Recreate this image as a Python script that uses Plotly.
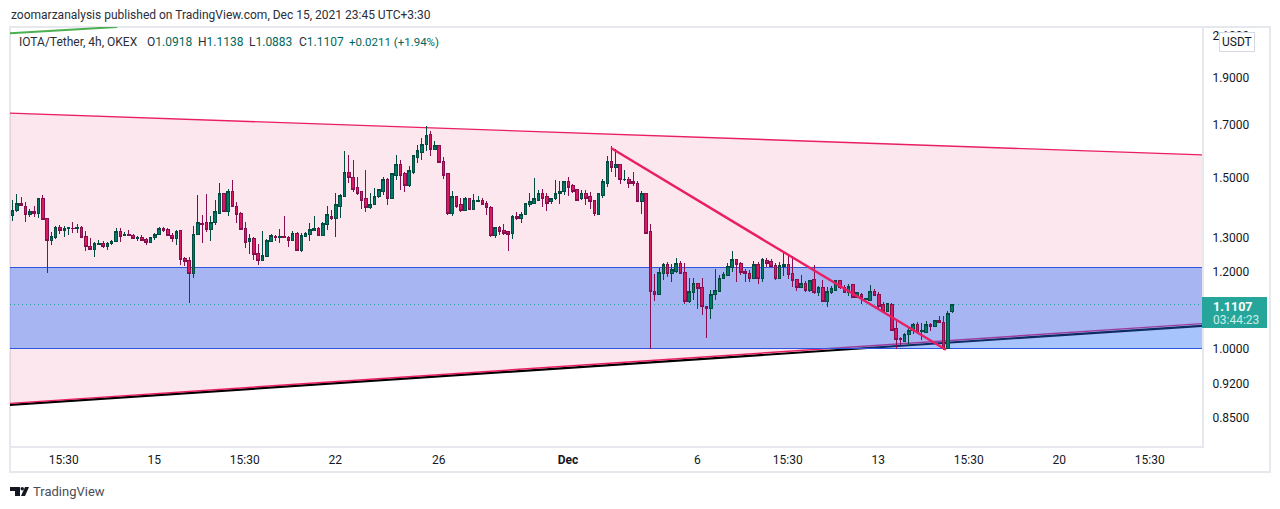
import math
import pandas as pd
import plotly.graph_objects as go

# IOTA/Tether 4h candles
opens = [
1.371,1.387,1.413,1.403,1.374,1.386,1.378,1.427,1.361,1.293,
1.304,1.335,1.324,1.332,1.332,1.330,1.335,1.307,1.276,1.265,
1.281,1.283,1.274,1.283,1.290,1.320,1.310,1.312,1.310,1.298,
1.304,1.295,1.287,1.301,1.311,1.332,1.326,1.310,1.298,1.323,
1.238,1.232,1.196,1.311,1.345,1.348,1.326,1.348,1.380,1.444,
1.384,1.454,1.403,1.380,1.329,1.289,1.298,1.253,1.232,1.245,
1.289,1.307,1.301,1.307,1.304,1.292,1.316,1.264,1.307,1.313,
1.323,1.329,1.310,1.342,1.370,1.364,1.403,1.437,1.518,1.503,
1.465,1.451,1.427,1.400,1.407,1.434,1.454,1.493,1.427,1.510,
1.547,1.514,1.472,1.518,1.576,1.595,1.622,1.661,1.603,1.618,
1.558,1.514,1.380,1.434,1.407,1.390,1.427,1.393,1.420,1.423,
1.413,1.400,1.310,1.335,1.323,1.320,1.316,1.370,1.361,1.374,
1.410,1.413,1.423,1.444,1.434,1.417,1.427,1.444,1.451,1.486,
1.472,1.458,1.427,1.444,1.434,1.423,1.377,1.440,1.482,1.561,
1.536,1.547,1.493,1.496,1.486,1.482,1.417,1.444,1.320,1.147,
1.139,1.197,1.223,1.197,1.203,1.226,1.200,1.118,1.142,1.167,
1.156,1.107,1.100,1.137,1.147,1.181,1.189,1.214,1.235,1.226,
1.203,1.197,1.183,1.223,1.183,1.232,1.229,1.220,1.181,1.217,
1.223,1.195,1.178,1.156,1.167,1.150,1.178,1.142,1.156,1.120,
1.142,1.150,1.175,1.158,1.142,1.164,1.131,1.139,1.124,1.123,
1.147,1.137,1.110,1.094,1.110,1.049,1.024,1.019,1.034,1.044,
1.061,1.042,1.041,1.061,1.056,1.071,1.066,1.002,1.0918]
highs = [
1.423,1.444,1.433,1.416,1.393,1.402,1.430,1.440,1.363,1.321,
1.338,1.342,1.337,1.335,1.351,1.345,1.337,1.323,1.300,1.289,
1.294,1.292,1.289,1.294,1.332,1.332,1.320,1.325,1.312,1.307,
1.310,1.301,1.304,1.317,1.334,1.335,1.332,1.317,1.325,1.323,
1.244,1.244,1.338,1.440,1.374,1.444,1.369,1.423,1.482,1.447,
1.461,1.493,1.416,1.383,1.351,1.313,1.304,1.283,1.323,1.298,
1.313,1.310,1.329,1.370,1.307,1.323,1.320,1.316,1.320,1.348,
1.370,1.335,1.351,1.402,1.390,1.447,1.444,1.599,1.584,1.565,
1.503,1.454,1.528,1.447,1.465,1.461,1.503,1.500,1.518,1.584,
1.565,1.521,1.543,1.580,1.622,1.649,1.696,1.676,1.637,1.622,
1.576,1.514,1.454,1.437,1.430,1.434,1.430,1.444,1.437,1.430,
1.420,1.403,1.335,1.338,1.345,1.323,1.374,1.384,1.384,1.413,
1.447,1.500,1.458,1.461,1.447,1.430,1.493,1.489,1.489,1.503,
1.479,1.458,1.458,1.458,1.451,1.423,1.447,1.496,1.580,1.618,
1.606,1.550,1.528,1.503,1.521,1.489,1.454,1.444,1.345,1.194,
1.212,1.226,1.229,1.223,1.241,1.232,1.226,1.183,1.183,1.167,
1.183,1.107,1.150,1.209,1.192,1.200,1.226,1.261,1.238,1.229,
1.209,1.206,1.232,1.229,1.241,1.241,1.238,1.226,1.229,1.261,
1.247,1.247,1.181,1.192,1.175,1.178,1.220,1.161,1.178,1.158,
1.161,1.175,1.178,1.164,1.167,1.167,1.145,1.142,1.126,1.164,
1.153,1.145,1.118,1.115,1.115,1.069,1.029,1.039,1.054,1.064,
1.066,1.064,1.069,1.064,1.071,1.081,1.081,1.094,1.1138]
lows = [
1.355,1.385,1.404,1.352,1.366,1.368,1.364,1.357,1.198,1.281,
1.297,1.313,1.305,1.310,1.316,1.317,1.301,1.262,1.264,1.244,
1.281,1.271,1.264,1.281,1.289,1.289,1.307,1.307,1.298,1.292,
1.292,1.281,1.286,1.295,1.310,1.321,1.307,1.289,1.280,1.220,
1.217,1.115,1.184,1.310,1.286,1.321,1.292,1.342,1.377,1.383,
1.370,1.400,1.348,1.326,1.270,1.253,1.235,1.220,1.232,1.244,
1.289,1.292,1.286,1.301,1.273,1.292,1.264,1.258,1.304,1.292,
1.323,1.307,1.307,1.326,1.358,1.304,1.364,1.437,1.482,1.451,
1.440,1.393,1.384,1.393,1.407,1.430,1.440,1.407,1.427,1.493,
1.458,1.451,1.468,1.514,1.554,1.565,1.599,1.580,1.603,1.554,
1.496,1.374,1.370,1.397,1.384,1.387,1.390,1.393,1.417,1.407,
1.374,1.304,1.301,1.310,1.310,1.261,1.298,1.358,1.348,1.374,
1.400,1.413,1.423,1.400,1.387,1.410,1.423,1.410,1.440,1.437,
1.447,1.420,1.423,1.407,1.393,1.370,1.377,1.430,1.468,1.521,
1.503,1.479,1.489,1.465,1.472,1.417,1.377,1.316,0.999,1.120,
1.139,1.178,1.186,1.172,1.197,1.197,1.113,1.115,1.123,1.100,
1.084,1.027,1.074,1.123,1.145,1.181,1.189,1.200,1.172,1.192,
1.172,1.172,1.183,1.167,1.172,1.214,1.214,1.178,1.181,1.189,
1.181,1.158,1.147,1.156,1.145,1.145,1.139,1.134,1.120,1.105,
1.139,1.150,1.153,1.142,1.134,1.131,1.129,1.113,1.124,1.123,
1.134,1.102,1.089,1.092,1.044,1.000,1.010,1.017,1.007,1.036,
1.036,1.022,1.041,1.044,1.056,1.064,0.998,1.002,1.0883]
closes = [
1.390,1.413,1.404,1.375,1.386,1.378,1.427,1.359,1.293,1.307,
1.335,1.324,1.332,1.333,1.330,1.335,1.304,1.274,1.265,1.283,
1.283,1.274,1.285,1.291,1.320,1.307,1.313,1.308,1.299,1.304,
1.293,1.286,1.301,1.313,1.332,1.323,1.308,1.298,1.322,1.236,
1.229,1.195,1.313,1.348,1.343,1.326,1.351,1.384,1.444,1.384,
1.454,1.401,1.375,1.327,1.286,1.298,1.250,1.232,1.247,1.292,
1.310,1.301,1.307,1.301,1.292,1.316,1.264,1.310,1.316,1.326,
1.329,1.310,1.345,1.374,1.364,1.407,1.440,1.521,1.500,1.461,
1.447,1.423,1.400,1.410,1.437,1.458,1.493,1.427,1.514,1.547,
1.510,1.472,1.525,1.580,1.599,1.625,1.657,1.603,1.618,1.554,
1.510,1.380,1.434,1.403,1.390,1.427,1.393,1.423,1.423,1.410,
1.397,1.310,1.335,1.320,1.315,1.313,1.370,1.361,1.377,1.413,
1.417,1.427,1.444,1.430,1.413,1.430,1.447,1.454,1.486,1.468,
1.454,1.423,1.444,1.430,1.420,1.380,1.444,1.486,1.558,1.536,
1.547,1.493,1.496,1.482,1.479,1.417,1.444,1.316,1.147,1.137,
1.200,1.223,1.197,1.206,1.226,1.197,1.118,1.145,1.167,1.153,
1.105,1.100,1.139,1.150,1.183,1.192,1.217,1.235,1.223,1.200,
1.195,1.183,1.223,1.181,1.235,1.226,1.217,1.181,1.220,1.223,
1.192,1.175,1.156,1.167,1.150,1.175,1.142,1.158,1.120,1.145,
1.153,1.175,1.156,1.142,1.161,1.131,1.142,1.129,1.126,1.147,
1.134,1.107,1.092,1.113,1.046,1.022,1.022,1.036,1.046,1.061,
1.041,1.044,1.061,1.056,1.069,1.064,1.002,1.087,1.1107]
first_candle = "2021-11-09 12:30"

# Price-scale and time-scale labels
y_ticks = [0.85, 0.92, 1.0, 1.2, 1.3, 1.5, 1.7, 1.9, 2.1]
x_tick_dates = ["2021-11-11 12:00", "2021-11-15", "2021-11-18 12:00", "2021-11-22",
                "2021-11-26", "2021-12-01", "2021-12-06", "2021-12-09 12:00",
                "2021-12-13", "2021-12-16 12:00", "2021-12-20", "2021-12-23 12:00"]
x_tick_text = ["15:30", "15", "15:30", "22", "26", "<b>Dec</b>", "6", "15:30", "13", "15:30", "20", "15:30"]

# Drawings on the chart, in time / price
range_start = "2021-11-09 10:06"
range_end = "2021-12-25 12:30"
wedge_upper = [1.749, 1.584]
wedge_lower = [0.879, 1.062]
trend_lower = [0.876, 1.0565]
zone = [1.0, 1.2145]
last_price = 1.1107
diag_x = ["2021-12-02 15:55", "2021-12-15 14:50"]
diag_y = [1.610, 0.998]
green_x = [range_start, "2021-11-13 13:30"]
green_y = [2.114, 2.145]

UP_FILL, UP_EDGE = "#00796B", "#004D40"
DOWN_FILL, DOWN_EDGE = "#D81B60", "#880E4F"
TXT = "#131722"
FRAME = "#E6E8EE"
L, R, T, B = 10, 1202, 27, 446


def px(x):
    return (x - L) / (R - L)


def py(y):
    return 1 - (y - T) / (B - T)


dates = pd.date_range(first_candle, periods=len(opens), freq="4h")
fig = go.Figure()
d0, d1 = range_start.replace(" ", "_"), range_end.replace(" ", "_")

fig.add_trace(go.Candlestick(
    x=dates, open=opens, high=highs, low=lows, close=closes,
    increasing=dict(fillcolor=UP_FILL, line=dict(color=UP_EDGE, width=1)),
    decreasing=dict(fillcolor=DOWN_FILL, line=dict(color=DOWN_EDGE, width=1)),
))
fig.add_trace(go.Scatter(x=diag_x, y=diag_y, mode="lines", line=dict(color="#E91E63", width=2.4)))
fig.add_trace(go.Scatter(x=green_x, y=green_y, mode="lines", line=dict(color="#4CAF50", width=2)))


def seg(values, color, width, dash="solid"):
    return dict(type="line", xref="x", yref="y", layer="below",
                x0=range_start, x1=range_end, y0=values[0], y1=values[1],
                line=dict(color=color, width=width, dash=dash))


shapes = [
    dict(type="rect", xref="paper", yref="paper", x0=px(10), x1=px(1270), y0=py(472), y1=py(27),
         line=dict(color=FRAME, width=2), fillcolor="rgba(0,0,0,0)", layer="below"),
    # Pink wedge, trend lines, blue zone and the last-price line sit under the candles
    dict(type="path", xref="x", yref="y", layer="below", line=dict(width=0),
         fillcolor="rgba(233,30,99,0.105)",
         path=f"M {d0},{wedge_upper[0]} L {d1},{wedge_upper[1]} L {d1},{wedge_lower[1]} L {d0},{wedge_lower[0]} Z"),
    seg(trend_lower, "#000000", 2.2),
    seg(wedge_lower, "#E91E63", 1.4),
    seg(wedge_upper, "#E91E63", 1.4),
    dict(type="rect", xref="x", yref="y", layer="below", line=dict(width=0),
         x0=range_start, x1=range_end, y0=zone[0], y1=zone[1], fillcolor="rgba(37,107,250,0.40)"),
    seg([zone[0], zone[0]], "#2F55DC", 1),
    seg([zone[1], zone[1]], "#2F55DC", 1),
    seg([last_price, last_price], "#26A69A", 1, "1px,3px"),
    dict(type="rect", xref="paper", yref="paper", x0=px(1202), x1=px(1267), y0=py(328), y1=py(297),
         line=dict(width=0), fillcolor="#26A69A"),
    # TradingView mark
    dict(type="path", xref="paper", yref="paper", line=dict(width=0), fillcolor="#131722",
         path=" ".join([
             f"M {px(10)} {py(487)} L {px(20)} {py(487)} L {px(20)} {py(496)} L {px(15)} {py(496)}",
             f"L {px(15)} {py(491)} L {px(10)} {py(491)} Z"])),
    dict(type="circle", xref="paper", yref="paper", line=dict(width=0), fillcolor="#131722",
         x0=px(20.5), x1=px(24), y0=py(490.5), y1=py(487)),
    dict(type="path", xref="paper", yref="paper", line=dict(width=0), fillcolor="#131722",
         path=f"M {px(25)} {py(487)} L {px(29)} {py(487)} L {px(25)} {py(496)} L {px(21)} {py(496)} Z"),
]


def note(x, y, text, size=12, color=TXT, anchor="left", **kw):
    return dict(xref="paper", yref="paper", x=px(x), y=py(y), text=text, showarrow=False,
                xanchor=anchor, yanchor="middle", font=dict(size=size, color=color), **kw)


VAL = "#00695C"
annotations = [
    note(9, 14.5, "zoomarzanalysis published on TradingView.com, Dec 15, 2021 23:45 UTC+3:30", 12, "#2A2E39"),
    note(17, 41.5, "IOTA/Tether, 4h, OKEX", 12, "#2A2E39"),
    note(145, 41.5, f'O<span style="color:{VAL}">1.0918</span>', 12, "#2A2E39"),
    note(196, 41.5, f'H<span style="color:{VAL}">1.1138</span>', 12, "#2A2E39"),
    note(247, 41.5, f'L<span style="color:{VAL}">1.0883</span>', 12, "#2A2E39"),
    note(297, 41.5, f'C<span style="color:{VAL}">1.1107</span>', 12, "#2A2E39"),
    note(347, 41.5, "+0.0211 (+1.94%)", 11.5, VAL),
    note(1236.5, 42, "USDT", 12, TXT, "center", bgcolor="#FFFFFF", bordercolor="#D6D9E2",
         borderwidth=1, borderpad=2),
    note(1211, 306, "<b>1.1107</b>", 12.5, "#FFFFFF"),
    note(1211, 320, "03:44:23", 12, "#C9EDE9"),
    note(31, 491.5, "TradingView", 13, "#4A4E57"),
]

fig.update_layout(
    width=1280, height=509, autosize=False,
    margin=dict(l=L, r=1280 - R, t=T, b=509 - B, pad=0),
    paper_bgcolor="#FFFFFF", plot_bgcolor="#FFFFFF",
    showlegend=False, hovermode=False, boxgap=0.15,
    font=dict(family="Roboto, Arial, sans-serif", size=12, color=TXT),
    shapes=shapes, annotations=annotations,
    xaxis=dict(type="date", range=[range_start, range_end], rangeslider=dict(visible=False),
               tickmode="array", tickvals=x_tick_dates, ticktext=x_tick_text,
               showgrid=False, zeroline=False, showline=True, linecolor=FRAME, linewidth=2,
               ticks="", tickfont=dict(size=12, color=TXT), ticklabelstandoff=2),
    yaxis=dict(type="log", side="right", range=[math.log10(0.7946), math.log10(2.145)],
               tickmode="array", tickvals=y_ticks, ticktext=[f"{v:.4f}" for v in y_ticks],
               showgrid=False, zeroline=False, showline=True, linecolor=FRAME, linewidth=2,
               ticks="", tickfont=dict(size=12, color=TXT), ticklabelstandoff=6),
)

post = """
document.body.style.margin='0';document.body.style.overflow='hidden';
document.querySelectorAll('.boxlayer path').forEach(function(p){p.style.shapeRendering='crispEdges';});
document.querySelectorAll('.shapelayer path').forEach(function(p){
  var s=p.style.stroke.replace(/\\s/g,'');
  if(s==='rgb(47,85,220)'||s==='rgb(38,166,154)'){p.style.shapeRendering='crispEdges';}
});
"""
fig.write_html("out.html", post_script=post, config={"displayModeBar": False})
